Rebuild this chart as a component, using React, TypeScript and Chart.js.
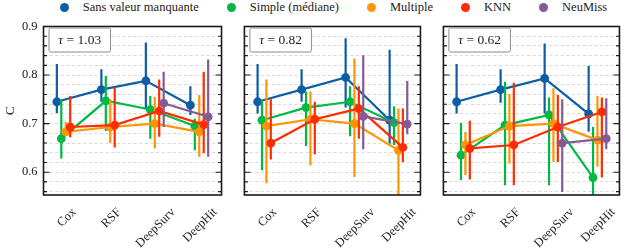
import React, { useEffect, useRef } from 'react';
import { Chart, registerables } from 'chart.js';

Chart.register(...registerables);

// ---------- data ----------
const categories = ['Cox', 'RSF', 'DeepSurv', 'DeepHit'];
const seriesNames = ['Sans valeur manquante', 'Simple (médiane)', 'Multiple', 'KNN', 'NeuMiss'];
const seriesColors = ['#0C5DA5', '#00B945', '#FF9500', '#FF2C00', '#845B97'];
const tauLabels = ['1.03', '0.82', '0.62'];
const yMajorTicks = [0.6, 0.7, 0.8, 0.9];
const yGridTicks = [0.56, 0.58, 0.6, 0.62, 0.64, 0.66, 0.68, 0.7, 0.72, 0.74, 0.76, 0.78, 0.8, 0.82, 0.84, 0.86, 0.88, 0.9];
const yLimits = [0.553, 0.9];

// tau = 1.03  (rows: series, cols: categories)
const meanTau103 = [
  [0.745, 0.770, 0.788, 0.738],
  [0.669, 0.747, 0.729, 0.695],
  [0.683, 0.693, 0.700, 0.683],
  [0.693, 0.697, 0.726, 0.698],
  [null, null, 0.742, 0.714],
];
const lowTau103 = [
  [0.722, 0.745, 0.729, 0.718],
  [0.628, 0.685, 0.669, 0.645],
  [0.676, 0.660, 0.649, 0.632],
  [0.672, 0.651, 0.673, 0.639],
  [null, null, 0.693, 0.632],
];
const highTau103 = [
  [0.823, 0.812, 0.867, 0.777],
  [0.750, 0.798, 0.757, 0.710],
  [0.704, 0.750, 0.755, 0.759],
  [0.757, 0.775, 0.791, 0.807],
  [null, null, 0.807, 0.832],
];

// tau = 0.82
const meanTau082 = [
  [0.745, 0.770, 0.795, 0.707],
  [0.707, 0.733, 0.745, 0.702],
  [0.695, 0.709, 0.700, 0.645],
  [0.660, 0.709, 0.731, 0.651],
  [null, null, 0.715, 0.699],
];
const lowTau082 = [
  [0.721, 0.745, 0.733, 0.659],
  [0.604, 0.654, 0.674, 0.656],
  [0.577, 0.614, 0.590, 0.550],
  [0.626, 0.637, 0.669, 0.621],
  [null, null, 0.647, 0.678],
];
const highTau082 = [
  [0.823, 0.812, 0.876, 0.852],
  [0.748, 0.766, 0.777, 0.736],
  [0.791, 0.766, 0.834, 0.731],
  [0.750, 0.745, 0.777, 0.731],
  [null, null, 0.841, 0.788],
];

// tau = 0.62
const meanTau062 = [
  [0.745, 0.770, 0.793, 0.720],
  [0.635, 0.697, 0.718, 0.589],
  [0.656, 0.695, 0.700, 0.666],
  [0.649, 0.656, 0.693, 0.724],
  [null, null, 0.660, 0.669],
];
const lowTau062 = [
  [0.721, 0.743, 0.721, 0.683],
  [0.584, 0.573, 0.573, 0.550],
  [0.594, 0.618, 0.621, 0.611],
  [0.585, 0.573, 0.621, 0.589],
  [null, null, 0.559, 0.647],
];
const highTau062 = [
  [0.823, 0.812, 0.865, 0.819],
  [0.702, 0.786, 0.754, 0.693],
  [0.683, 0.761, 0.773, 0.757],
  [0.706, 0.784, 0.759, 0.754],
  [null, null, 0.750, 0.752],
];

const panels = [
  { tau: tauLabels[0], mean: meanTau103, low: lowTau103, high: highTau103 },
  { tau: tauLabels[1], mean: meanTau082, low: lowTau082, high: highTau082 },
  { tau: tauLabels[2], mean: meanTau062, low: lowTau062, high: highTau062 },
];

// ---------- layout / style ----------
const FONT = '"Liberation Serif", "Times New Roman", serif';
const DODGE = 0.1;
const PLOT_W = 181.5;
const TOP = 26.5;
const X_AXIS_H = 53;
const H = 248;
const RIGHT_PAD = 3;
const canvasSpecs = [
  { left: 0, yw: 43.5, showY: true },
  { left: 240, yw: 2.5, showY: false },
  { left: 439, yw: 2.5, showY: false },
];
const TEXT_COLOR = '#222';
const X_FONT_SIZE = 12.5;

const errorBarPlugin = {
  id: 'errorBars',
  beforeDatasetDraw(chart: any, args: any) {
    const ds: any = chart.data.datasets[args.index];
    const xs = chart.scales.x;
    const ys = chart.scales.y;
    const { ctx, chartArea: a } = chart;
    ctx.save();
    ctx.beginPath();
    ctx.rect(a.left, a.top, a.right - a.left, a.bottom - a.top);
    ctx.clip();
    ctx.strokeStyle = ds.borderColor;
    ctx.lineWidth = 2.2;
    ds.data.forEach((p: any, i: number) => {
      if (p.y == null || ds.errLow[i] == null) return;
      const x = xs.getPixelForValue(p.x);
      ctx.beginPath();
      ctx.moveTo(x, ys.getPixelForValue(ds.errLow[i]));
      ctx.lineTo(x, ys.getPixelForValue(ds.errHigh[i]));
      ctx.stroke();
    });
    ctx.restore();
  },
};

const framePlugin = {
  id: 'frame',
  afterDraw(chart: any) {
    const { ctx, chartArea: a } = chart;
    const ys = chart.scales.y;
    const tau = chart.options.plugins.frame.tau;
    ctx.save();
    ctx.strokeStyle = '#1a1a1a';
    ctx.lineWidth = 1.1;
    yGridTicks.forEach((v) => {
      const y = ys.getPixelForValue(v);
      const major = yMajorTicks.some((m) => Math.abs(m - v) < 1e-9);
      const len = major ? 6 : 3.5;
      ctx.beginPath();
      ctx.moveTo(a.left, y);
      ctx.lineTo(a.left + len, y);
      ctx.moveTo(a.right - len, y);
      ctx.lineTo(a.right, y);
      ctx.stroke();
    });
    ctx.lineWidth = 1.6;
    ctx.strokeRect(a.left, a.top, a.right - a.left, a.bottom - a.top);

    // tau box
    const bx = a.left + 5.5;
    const by = a.top + 1.5;
    const bw = 61.5;
    const bh = 24;
    ctx.fillStyle = 'rgba(255,255,255,0.9)';
    ctx.strokeStyle = '#8c8c8c';
    ctx.lineWidth = 1;
    ctx.beginPath();
    (ctx as any).roundRect ? (ctx as any).roundRect(bx, by, bw, bh, 1.5) : ctx.rect(bx, by, bw, bh);
    ctx.fill();
    ctx.stroke();
    const fItal = `italic 13.5px ${FONT}`;
    const fReg = `13.5px ${FONT}`;
    ctx.font = fItal;
    const t1 = 'τ';
    const w1 = ctx.measureText(t1).width;
    ctx.font = fReg;
    const t2 = ' = ' + tau;
    const w2 = ctx.measureText(t2).width;
    const sx = bx + (bw - w1 - w2) / 2;
    ctx.fillStyle = TEXT_COLOR;
    ctx.textBaseline = 'middle';
    ctx.textAlign = 'left';
    ctx.font = fItal;
    ctx.fillText(t1, sx, by + bh / 2 + 0.5);
    ctx.font = fReg;
    ctx.fillText(t2, sx + w1, by + bh / 2 + 0.5);
    ctx.restore();
  },
};

function buildConfig(p: any, spec: any): any {
  const datasets = seriesNames.map((name, s) => ({
    label: name,
    data: categories.map((c, i) => ({ x: i + (s - 2) * DODGE, y: p.mean[s][i] })),
    errLow: p.low[s],
    errHigh: p.high[s],
    borderColor: seriesColors[s],
    backgroundColor: seriesColors[s],
    pointBackgroundColor: seriesColors[s],
    borderWidth: 2.2,
    pointRadius: 4.4,
    pointBorderWidth: 0,
    pointHoverRadius: 4.4,
    order: 4 - s,
    spanGaps: false,
    tension: 0,
  }));
  const unitPx = PLOT_W / 4;
  return {
    type: 'line',
    data: { datasets },
    plugins: [errorBarPlugin, framePlugin],
    options: {
      animation: false,
      responsive: false,
      events: [],
      layout: { padding: { top: TOP, right: RIGHT_PAD, left: 0, bottom: 0 } },
      plugins: {
        legend: { display: false },
        tooltip: { enabled: false },
        frame: { tau: p.tau },
      },
      scales: {
        x: {
          type: 'linear',
          min: -0.5,
          max: 3.5,
          afterBuildTicks: (scale: any) => {
            const ctx = scale.ctx;
            ctx.save();
            ctx.font = `${X_FONT_SIZE}px ${FONT}`;
            const lh = X_FONT_SIZE * 1.2;
            scale.ticks = categories.map((c, i) => {
              const w = ctx.measureText(c).width;
              const shiftPx = 0.3536 * (w + lh) - 4;
              return { value: i + shiftPx / unitPx };
            });
            ctx.restore();
          },
          afterFit: (scale: any) => {
            scale.height = X_AXIS_H;
          },
          ticks: {
            autoSkip: false,
            minRotation: 45,
            maxRotation: 45,
            padding: 2,
            color: TEXT_COLOR,
            font: { family: FONT, size: X_FONT_SIZE },
            callback: (v: any, i: number) => categories[i],
          },
          grid: { display: false },
          border: { display: false },
        },
        y: {
          type: 'linear',
          min: yLimits[0],
          max: yLimits[1],
          afterBuildTicks: (scale: any) => {
            scale.ticks = yGridTicks.map((v) => ({ value: v }));
          },
          afterFit: (scale: any) => {
            scale.width = spec.yw;
          },
          ticks: {
            display: spec.showY,
            autoSkip: false,
            padding: 6,
            color: TEXT_COLOR,
            font: { family: FONT, size: 12.5 },
            callback: (v: any) => (yMajorTicks.some((m) => Math.abs(m - v) < 1e-9) ? Number(v).toFixed(1) : ''),
          },
          grid: { color: '#d6d6d6', lineWidth: 0.9, drawTicks: false },
          border: { display: false, dash: [3.2, 2.4] },
          title: {
            display: spec.showY,
            text: 'C',
            color: TEXT_COLOR,
            font: { family: FONT, size: 13.5 },
            padding: { top: 2, bottom: 0 },
          },
        },
      },
    },
  };
}

export default function App() {
  const refs = [useRef<HTMLCanvasElement>(null), useRef<HTMLCanvasElement>(null), useRef<HTMLCanvasElement>(null)];
  useEffect(() => {
    const charts = panels.map((p, k) => new Chart(refs[k].current as HTMLCanvasElement, buildConfig(p, canvasSpecs[k])));
    return () => charts.forEach((c) => c.destroy());
  }, []);

  return (
    <div style={{ position: 'absolute', left: 0, top: 0, width: 638, height: H, background: '#fff', overflow: 'hidden' }}>
      <div
        style={{
          position: 'absolute',
          left: 43.5,
          top: 0,
          width: 580,
          height: 15,
          display: 'flex',
          justifyContent: 'center',
          alignItems: 'center',
          fontFamily: FONT,
          fontSize: 12.5,
          color: TEXT_COLOR,
          whiteSpace: 'nowrap',
        }}
      >
        {seriesNames.map((n, i) => (
          <div key={n} style={{ display: 'flex', alignItems: 'center', marginRight: i < seriesNames.length - 1 ? 28 : 0 }}>
            <span
              style={{
                display: 'inline-block',
                width: 9,
                height: 9,
                borderRadius: '50%',
                background: seriesColors[i],
                marginRight: 14,
              }}
            />
            <span>{n}</span>
          </div>
        ))}
      </div>
      {canvasSpecs.map((spec, k) => {
        const w = Math.round(spec.yw + PLOT_W + RIGHT_PAD);
        return (
          <canvas
            key={k}
            ref={refs[k]}
            width={w}
            height={H}
            style={{ position: 'absolute', left: spec.left, top: 0, width: w, height: H, display: 'block' }}
          />
        );
      })}
    </div>
  );
}
